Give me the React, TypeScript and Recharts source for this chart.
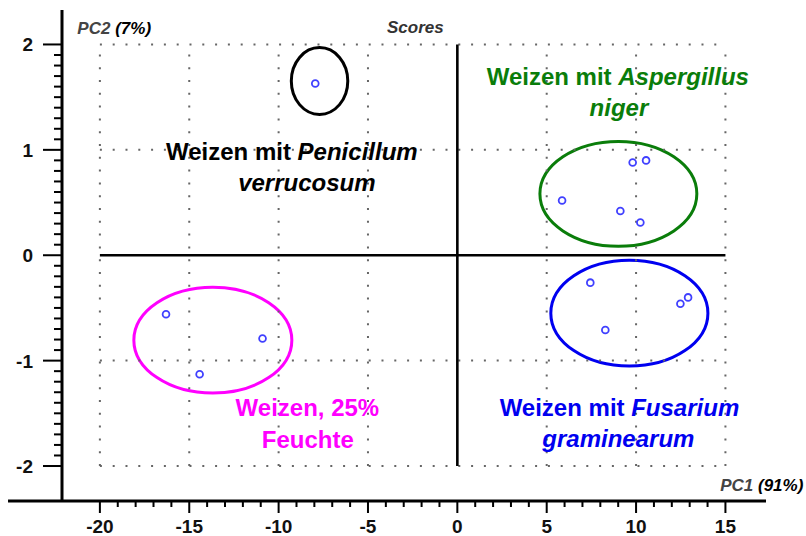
import {
  ScatterChart, Scatter, XAxis, YAxis,
  ReferenceLine, ReferenceArea, ReferenceDot,
} from 'recharts'

// PCA scores, one array per sample group
const PENICILLIUM = [{ x: -7.95, y: 1.63 }]
const ASPERGILLUS = [
  { x: 9.81, y: 0.88 }, { x: 10.56, y: 0.9 }, { x: 5.86, y: 0.52 },
  { x: 9.12, y: 0.42 }, { x: 10.24, y: 0.31 },
]
const FUSARIUM = [
  { x: 7.44, y: -0.26 }, { x: 12.91, y: -0.4 }, { x: 12.48, y: -0.46 }, { x: 8.28, y: -0.71 },
]
const FEUCHTE = [{ x: -16.3, y: -0.56 }, { x: -10.9, y: -0.79 }, { x: -14.42, y: -1.13 }]

// group ellipses, as bounding boxes in score units
const RING_PEN = { x1: -9.29, x2: -6.13, y1: 1.336, y2: 1.97 }
const RING_ASP = { x1: 4.62, x2: 13.4, y1: 0.085, y2: 1.08 }
const RING_FUS = { x1: 5.23, x2: 14.02, y1: -1.052, y2: -0.047 }
const RING_FEU = { x1: -18.1, x2: -9.26, y1: -1.308, y2: -0.303 }

const X_MAJOR = [-20, -15, -10, -5, 0, 5, 10, 15]
const Y_MAJOR = [-2, -1, 0, 1, 2]
const X_MINOR = Array.from({ length: 36 }, (_, i) => i - 20)
const Y_MINOR = Array.from({ length: 41 }, (_, i) => (i - 20) / 10)

const X_MIN = -22.12, X_MAX = 17.27
const Y_MIN = -2.332, Y_MAX = 2.327

const FONT = '"Liberation Sans", Arial, sans-serif'

function XTick({ x, y, payload }: any) {
  const v = payload.value
  const major = v % 5 === 0
  return (
    <g>
      <rect x={x - 1} y={y} width={2} height={major ? 12 : 6} fill="#000" />
      {major && (
        <text x={x} y={y + 31.5} textAnchor="middle" fontFamily={FONT} fontWeight="bold"
          fontSize={19} fill="#111">{v}</text>
      )}
    </g>
  )
}

function YTick({ x, y, payload }: any) {
  const v = payload.value
  const major = Math.abs(v - Math.round(v)) < 1e-6
  const len = major ? 19 : 8
  return (
    <g>
      <rect x={x - len} y={y - 1} width={len} height={2} fill="#000" />
      {major && (
        <text x={x - 29} y={y + 7} textAnchor="end" fontFamily={FONT} fontWeight="bold"
          fontSize={19} fill="#111">{Math.round(v)}</text>
      )}
    </g>
  )
}

function Oval({ x, y, width, height, tone }: any) {
  return (
    <ellipse cx={x + width / 2} cy={y + height / 2} rx={width / 2} ry={height / 2}
      fill="none" stroke={tone} strokeWidth={3} />
  )
}

function Caption({ cx, cy, tone, plain, italic, size = 24, anchor = 'middle', dim }: any) {
  return (
    <text x={cx} y={cy} textAnchor={anchor} fontFamily={FONT} fontWeight="bold"
      fontSize={size} fill={tone}>
      {plain && <tspan fill={dim || tone} fontStyle={dim ? 'italic' : 'normal'}>{plain}</tspan>}
      {italic && <tspan fontStyle="italic">{italic}</tspan>}
    </text>
  )
}

const Dot = (p: any) => (
  <circle cx={p.cx} cy={p.cy} r={3.4} fill="none" stroke="#4040ff" strokeWidth={1.8} />
)

const gridDots = { stroke: '#666', strokeWidth: 2, strokeDasharray: '2 10.8' }

export default function App() {
  return (
    <div style={{ position: 'absolute', left: 0, top: 0, background: '#fff' }}>
      <ScatterChart width={806} height={536} margin={{ top: 10, right: 40, left: 0, bottom: 0 }}>
        <XAxis type="number" dataKey="x" domain={[X_MIN, X_MAX]} allowDataOverflow
          ticks={X_MINOR} interval={0} tickSize={0} tickMargin={0} tickLine={false}
          axisLine={false} height={35} tick={<XTick />} />
        <YAxis type="number" dataKey="y" domain={[Y_MIN, Y_MAX]} allowDataOverflow
          ticks={Y_MINOR} interval={0} tickSize={0} tickMargin={0} tickLine={false}
          axisLine={{ stroke: '#000', strokeWidth: 3 }} width={62} tick={<YTick />} />

        {X_MAJOR.filter(v => v !== 0).map(v => (
          <ReferenceLine key={'gx' + v} segment={[{ x: v, y: -2 }, { x: v, y: 2 }]} {...gridDots} />
        ))}
        {Y_MAJOR.filter(v => v !== 0).map(v => (
          <ReferenceLine key={'gy' + v} segment={[{ x: -20, y: v }, { x: 15, y: v }]} {...gridDots} />
        ))}
        <ReferenceLine segment={[{ x: 0, y: -2 }, { x: 0, y: 2 }]} stroke="#000" strokeWidth={2.6} />
        <ReferenceLine segment={[{ x: -20, y: 0 }, { x: 15, y: 0 }]} stroke="#000" strokeWidth={2.6} />
        <ReferenceLine segment={[{ x: -25.14, y: Y_MIN }, { x: X_MAX, y: Y_MIN }]}
          stroke="#000" strokeWidth={3} ifOverflow="visible" />

        <ReferenceArea {...RING_PEN} ifOverflow="visible" shape={<Oval tone="#000" />} />
        <ReferenceArea {...RING_ASP} ifOverflow="visible" shape={<Oval tone="#0a7d0a" />} />
        <ReferenceArea {...RING_FUS} ifOverflow="visible" shape={<Oval tone="#0000f0" />} />
        <ReferenceArea {...RING_FEU} ifOverflow="visible" shape={<Oval tone="#ff00ff" />} />

        <Scatter data={PENICILLIUM} shape={Dot} isAnimationActive={false} />
        <Scatter data={ASPERGILLUS} shape={Dot} isAnimationActive={false} />
        <Scatter data={FUSARIUM} shape={Dot} isAnimationActive={false} />
        <Scatter data={FEUCHTE} shape={Dot} isAnimationActive={false} />

        <ReferenceDot x={-9.26} y={0.899} r={0} ifOverflow="visible"
          shape={<Caption tone="#000" plain="Weizen mit " italic="Penicillum" />} />
        <ReferenceDot x={-8.42} y={0.611} r={0} ifOverflow="visible"
          shape={<Caption tone="#000" italic="verrucosum" />} />
        <ReferenceDot x={8.98} y={1.616} r={0} ifOverflow="visible"
          shape={<Caption tone="#0a7d0a" plain="Weizen mit " italic="Aspergillus" />} />
        <ReferenceDot x={9.04} y={1.32} r={0} ifOverflow="visible"
          shape={<Caption tone="#0a7d0a" italic="niger" />} />
        <ReferenceDot x={9.07} y={-1.526} r={0} ifOverflow="visible"
          shape={<Caption tone="#0000f0" plain="Weizen mit " italic="Fusarium" />} />
        <ReferenceDot x={9.01} y={-1.815} r={0} ifOverflow="visible"
          shape={<Caption tone="#0000f0" italic="graminearum" />} />
        <ReferenceDot x={-8.39} y={-1.528} r={0} ifOverflow="visible"
          shape={<Caption tone="#ff00ff" plain="Weizen, 25%" />} />
        <ReferenceDot x={-8.37} y={-1.825} r={0} ifOverflow="visible"
          shape={<Caption tone="#ff00ff" plain="Feuchte" />} />

        <ReferenceDot x={-2.35} y={2.109} r={0} ifOverflow="visible"
          shape={<Caption tone="#333" italic="Scores" size={17} />} />
        <ReferenceDot x={-21.26} y={2.1} r={0} ifOverflow="visible"
          shape={<Caption tone="#000" dim="#444" plain="PC2 " italic="(7%)" size={17} anchor="start" />} />
        <ReferenceDot x={19.36} y={-2.239} r={0} ifOverflow="visible"
          shape={<Caption tone="#000" dim="#444" plain="PC1 " italic="(91%)" size={17} anchor="end" />} />
      </ScatterChart>
    </div>
  )
}
